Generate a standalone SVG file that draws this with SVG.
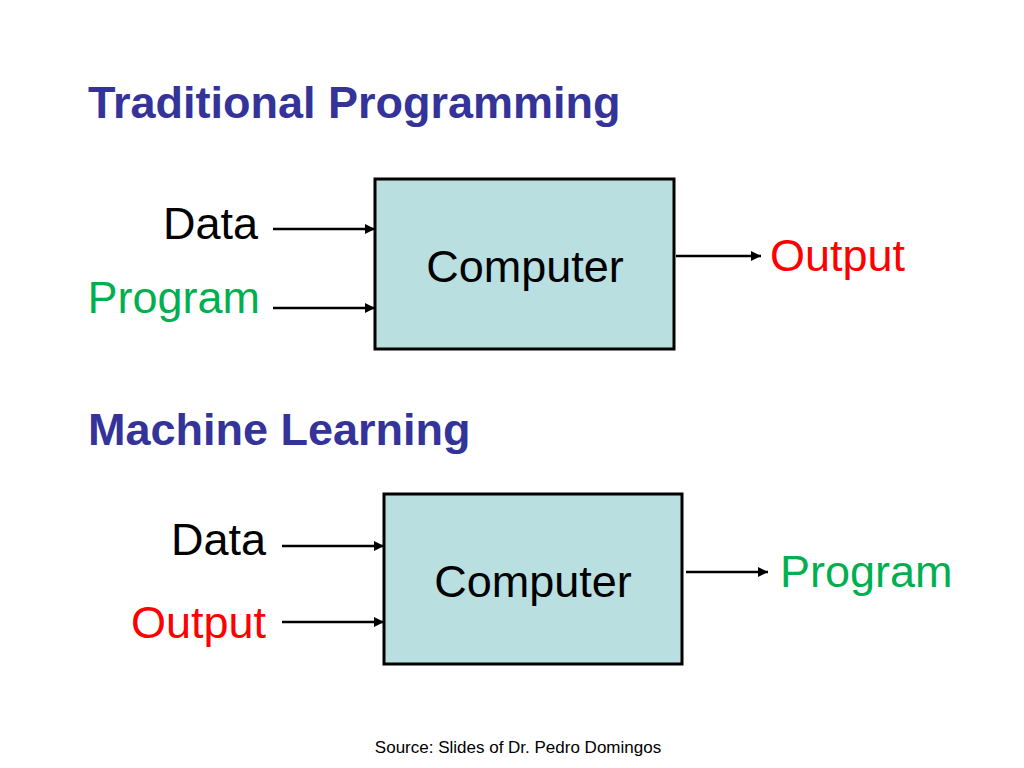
<svg xmlns="http://www.w3.org/2000/svg" width="1024" height="768" viewBox="0 0 1024 768">
<style>
text{font-family:"Liberation Sans",Arial,sans-serif}
.t{font-size:45px;font-weight:bold;fill:#333399}
.l{font-size:45px}
.box{fill:#B9DFE1;stroke:#000;stroke-width:3}
.c line{stroke:#000;stroke-width:2.5;marker-end:url(#a)}
</style>
<defs><marker id="a" viewBox="0 0 10 10" refX="10" refY="5" markerWidth="4" markerHeight="4" orient="auto"><path d="M0,0L10,5L0,10z" fill="#000"/></marker></defs>
<rect width="1024" height="768" fill="#fff"/>
<text class="t" x="88" y="118">Traditional Programming</text>
<text class="t" x="88" y="445">Machine Learning</text>
<g id="n1"><rect class="box" x="375" y="179" width="299" height="170"/><text class="l" x="525" y="282" text-anchor="middle" font-size="43">Computer</text></g>
<g id="n2"><rect class="box" x="384" y="494" width="298" height="170"/><text class="l" x="533" y="597" text-anchor="middle" font-size="43">Computer</text></g>
<g id="labels">
<text class="l" x="258" y="239" text-anchor="end">Data</text>
<text class="l" x="260" y="313" text-anchor="end" fill="#00B050">Program</text>
<text class="l" x="770" y="271" fill="#FF0000">Output</text>
<text class="l" x="266" y="555" text-anchor="end">Data</text>
<text class="l" x="266" y="638" text-anchor="end" fill="#FF0000">Output</text>
<text class="l" x="780" y="587" fill="#00B050">Program</text>
</g>
<g class="c">
<line x1="273" y1="229" x2="375" y2="229"/>
<line x1="273" y1="308" x2="375" y2="308"/>
<line x1="676" y1="256" x2="761" y2="256"/>
<line x1="282" y1="546" x2="384" y2="546"/>
<line x1="282" y1="622" x2="384" y2="622"/>
<line x1="686" y1="572" x2="768" y2="572"/>
</g>
<text x="518" y="753" font-size="17" text-anchor="middle">Source: Slides of Dr. Pedro Domingos</text>
</svg>
